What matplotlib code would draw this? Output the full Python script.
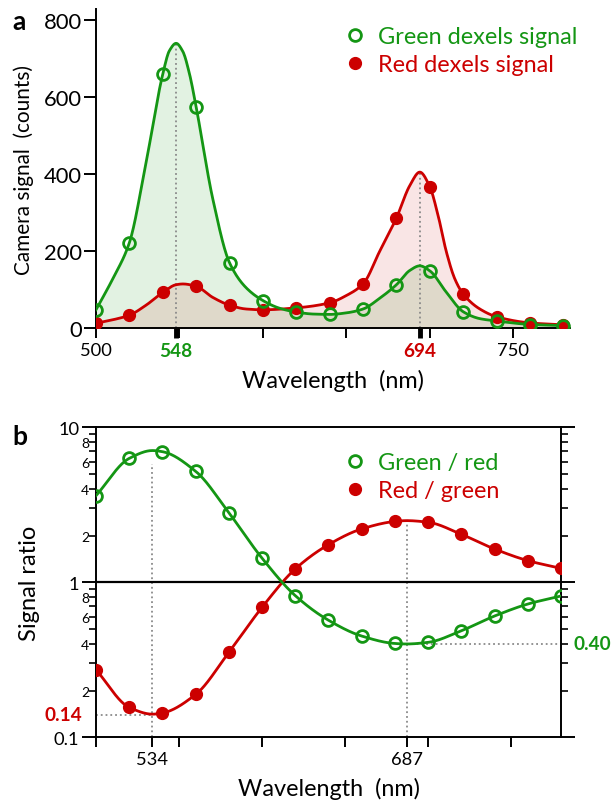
import numpy as np
import matplotlib
matplotlib.use('Agg')
import matplotlib.pyplot as plt
from matplotlib.lines import Line2D
from matplotlib.ticker import FixedLocator, FuncFormatter

plt.rcParams['font.family'] = ['Lato', 'DejaVu Sans']

# ---------------- data ----------------
wavelength = [500, 520, 540, 560, 580, 600, 620, 640, 660, 680, 700, 720, 740, 760, 780]
green_signal = [48, 222, 659, 574, 170, 72, 42, 36, 50, 113, 149, 42, 20, 9, 7]
red_signal = [13, 34, 93, 109, 60, 48, 53, 65, 115, 286, 367, 88, 30, 14, 9]

green_fit_nm = [500, 510, 520, 530, 540, 544, 548, 552, 556, 560, 570, 580, 590, 600, 610, 620,
                630, 640, 650, 660, 670, 680, 688, 694, 700, 710, 720, 730, 740, 760, 780]
green_fit = [48, 128, 222, 430, 659, 720, 739, 718, 660, 574, 335, 170, 105, 72, 52, 42,
             37, 36, 40, 50, 78, 113, 150, 162, 149, 93, 43, 25, 19, 10, 7]
red_fit_nm = [500, 510, 520, 530, 540, 548, 552, 560, 570, 580, 590, 600, 620, 640, 650, 660,
              670, 680, 688, 694, 700, 705, 710, 715, 720, 730, 740, 760, 780]
red_fit = [13, 22, 34, 60, 93, 113, 115, 109, 80, 60, 50, 48, 53, 66, 85, 115,
           200, 286, 370, 405, 367, 292, 197, 128, 89, 50, 30, 14, 9]

green_red_ratio = [3.62, 6.3, 6.96, 5.2, 2.81, 1.43, 0.82, 0.569, 0.45, 0.403, 0.41, 0.487, 0.606, 0.724, 0.816]
red_green_ratio = [0.273, 0.156, 0.1435, 0.189, 0.353, 0.69, 1.22, 1.75, 2.21, 2.47, 2.44, 2.04, 1.64, 1.38, 1.23]

ratio_fit_nm = [500, 520, 534, 540, 560, 580, 600, 620, 640, 660, 680, 687, 700, 720, 740, 760, 780]
green_red_fit = [3.62, 6.3, 7.08, 6.96, 5.2, 2.81, 1.43, 0.82, 0.569, 0.45, 0.403, 0.400, 0.41, 0.487, 0.606, 0.724, 0.816]
red_green_fit = [0.273, 0.156, 0.141, 0.1435, 0.189, 0.353, 0.69, 1.22, 1.75, 2.21, 2.47, 2.50, 2.44, 2.04, 1.64, 1.38, 1.23]

peak_green_a, peak_red_a = 548, 694
peak_green_b, peak_red_b = 534, 687
label_014, label_040 = 0.14, 0.40

GREEN = '#149614'
RED = '#cc0000'
DOT = '#8a8a8a'


def pchip(x, y, xn):
    x = np.asarray(x, float); y = np.asarray(y, float)
    h = np.diff(x); d = np.diff(y) / h
    m = np.zeros_like(y)
    for k in range(1, len(x) - 1):
        if d[k - 1] * d[k] > 0:
            w1 = 2 * h[k] + h[k - 1]; w2 = h[k] + 2 * h[k - 1]
            m[k] = (w1 + w2) / (w1 / d[k - 1] + w2 / d[k])
    m[0] = d[0]; m[-1] = d[-1]
    idx = np.clip(np.searchsorted(x, xn) - 1, 0, len(x) - 2)
    t = (xn - x[idx]) / h[idx]
    h00 = 2 * t**3 - 3 * t**2 + 1; h10 = t**3 - 2 * t**2 + t
    h01 = -2 * t**3 + 3 * t**2; h11 = t**3 - t**2
    return h00 * y[idx] + h10 * h[idx] * m[idx] + h01 * y[idx + 1] + h11 * h[idx] * m[idx + 1]


W, H = 614, 804
fig = plt.figure(figsize=(W / 100, H / 100), dpi=100)
renderer = fig.canvas.get_renderer()


def fit_size(s, target_px, weight='normal'):
    t = fig.text(0, 0, s, fontsize=10, fontweight=weight)
    w = t.get_window_extent(renderer).width
    t.remove()
    return 10 * target_px / w


FS_XLAB = fit_size('Wavelength  (nm)', 182)
FS_YLAB = fit_size('Camera signal  (counts)', 210)
FS_YLAB_B = fit_size('Signal ratio', 115)
FS_LEG = fit_size('Green dexels signal', 199)
FS_TICK = fit_size('500', 32)
FS_YTICK = fit_size('800', 38)
FS_BOLD = fit_size('548', 33, 'bold')


def box(l, t, r, b):
    return [l / W, 1 - b / H, (r - l) / W, (b - t) / H]

# ---------------- panel a ----------------
ax1 = fig.add_axes(box(96, 10, 570, 329.3))
xs = np.linspace(500, 780, 700)
gcur = pchip(green_fit_nm, green_fit, xs)
rcur = pchip(red_fit_nm, red_fit, xs)
ax1.fill_between(xs, 0, gcur, color=GREEN, alpha=0.12, lw=0)
ax1.fill_between(xs, 0, rcur, color=RED, alpha=0.10, lw=0)
ax1.plot([peak_green_a, peak_green_a], [0, pchip(green_fit_nm, green_fit, np.array([peak_green_a]))[0]],
         ls=':', color=DOT, lw=1.3, zorder=2)
ax1.plot([peak_red_a, peak_red_a], [0, pchip(red_fit_nm, red_fit, np.array([peak_red_a]))[0]],
         ls=':', color=DOT, lw=1.3, zorder=2)
ax1.plot(xs, rcur, color=RED, lw=2, zorder=3)
ax1.plot(xs, gcur, color=GREEN, lw=2, zorder=4)
ax1.plot(wavelength, red_signal, 'o', color=RED, ms=8.5, zorder=5)
ax1.plot(wavelength, green_signal, 'o', mfc='none', mec=GREEN, mew=2, ms=8.5, zorder=6)
ax1.set_xlim(500, 784)
ax1.set_ylim(0, 828)
for s in ['top', 'right']:
    ax1.spines[s].set_visible(False)
for s in ['left', 'bottom']:
    ax1.spines[s].set_linewidth(1.4)
ax1.set_yticks([0, 200, 400, 600, 800])
xt = [500, 548, 550, 600, 650, 694, 700, 750]
ax1.set_xticks(xt)
ax1.set_xticklabels(['500', '548', '', '', '', '694', '', '750'])
ax1.tick_params(direction='out', length=7, width=1.4, labelsize=FS_TICK, pad=3)
ax1.tick_params(axis='y', length=9, pad=1, labelsize=FS_YTICK)
for i, col in [(1, GREEN), (5, RED)]:
    tk = ax1.xaxis.get_major_ticks()[i]
    tk.tick1line.set_color(col)
    tk.tick1line.set_markeredgewidth(3.5)
    tk.label1.set_color(col)
    tk.label1.set_fontweight('bold')
    tk.label1.set_fontsize(FS_BOLD)
ax1.set_xlabel('Wavelength  (nm)', fontsize=FS_XLAB, labelpad=7)
ax1.set_ylabel('Camera signal  (counts)', fontsize=FS_YLAB, labelpad=7)

h1 = [Line2D([], [], ls='none', marker='o', mfc='none', mec=GREEN, mew=2, ms=8.5),
      Line2D([], [], ls='none', marker='o', color=RED, ms=8.5)]
leg = ax1.legend(h1, ['Green dexels signal', 'Red dexels signal'], loc='upper left',
                 bbox_to_anchor=(333 / W, 1 - 15 / H), bbox_transform=fig.transFigure,
                 frameon=False, fontsize=FS_LEG, handlelength=0.9, handletextpad=0.5,
                 borderpad=0, labelspacing=0.3)
for t, c in zip(leg.get_texts(), [GREEN, RED]):
    t.set_color(c)

fig.text(12 / W, 1 - 22 / H, 'a', fontsize=19, fontweight='bold', va='center', ha='left')

# ---------------- panel b ----------------
ax2 = fig.add_axes(box(96, 428.3, 561, 738.3))
xs2 = np.linspace(500, 780, 700)
gr = 10 ** pchip(ratio_fit_nm, np.log10(green_red_fit), xs2)
rg = 10 ** pchip(ratio_fit_nm, np.log10(red_green_fit), xs2)
ax2.set_yscale('log')
ax2.set_xlim(500, 780)
ax2.set_ylim(0.1, 10)
ax2.axhline(1, color='k', lw=1.6, zorder=2)
ax2.plot([peak_green_b, peak_green_b], [0.1, 5.8], ls=':', color=DOT, lw=1.3, zorder=1)
ax2.plot([500, peak_green_b], [label_014, label_014], ls=':', color=DOT, lw=1.3, zorder=1)
ax2.plot([peak_red_b, peak_red_b], [0.1, 2.38], ls=':', color=DOT, lw=1.3, zorder=1)
ax2.plot([peak_red_b, 780], [label_040, label_040], ls=':', color=DOT, lw=1.3, zorder=1)
ax2.plot(xs2, rg, color=RED, lw=2, zorder=3)
ax2.plot(xs2, gr, color=GREEN, lw=2, zorder=4)
ax2.plot(wavelength, red_green_ratio, 'o', color=RED, ms=8.5, zorder=5)
ax2.plot(wavelength, green_red_ratio, 'o', mfc='none', mec=GREEN, mew=2, ms=8.5, zorder=6)
for s in ax2.spines.values():
    s.set_linewidth(1.4)
ax2.yaxis.set_major_locator(FixedLocator([0.1, 1, 10]))
ax2.set_yticklabels(['0.1', '1', '10'])
minors = [m * d for d in (0.1, 1) for m in range(2, 10)]
ax2.yaxis.set_minor_locator(FixedLocator(minors))


def minfmt(v, pos):
    mant = int(round(v / (0.1 if v < 1 else 1)))
    return str(mant) if mant in (2, 4, 6, 8) else ''


ax2.yaxis.set_minor_formatter(FuncFormatter(minfmt))
ax2.set_xticks([500, 534, 550, 600, 650, 687, 700, 750])
ax2.set_xticklabels(['', '534', '', '', '', '687', '', ''])
ax2.tick_params(axis='x', direction='out', length=7, width=1.4, labelsize=FS_TICK, pad=3, top=False)
ax2.tick_params(axis='y', which='major', direction='out', length=10, width=1.4, labelsize=FS_TICK,
                right=True, pad=2)
ax2.tick_params(axis='y', which='minor', direction='out', length=5, width=1.2, labelsize=10,
                right=True, pad=0)
ax2.set_xlabel('Wavelength  (nm)', fontsize=FS_XLAB, labelpad=7)
ax2.set_ylabel('Signal ratio', fontsize=FS_YLAB_B, labelpad=10)
ax2.annotate('0.14', xy=(0, label_014), xycoords=('axes fraction', 'data'), xytext=(-14, 0),
             textcoords='offset pixels', ha='right', va='center', color=RED, fontsize=FS_BOLD,
             fontweight='bold')
ax2.annotate('0.40', xy=(1, label_040), xycoords=('axes fraction', 'data'), xytext=(12, 0),
             textcoords='offset pixels', ha='left', va='center', color=GREEN, fontsize=FS_BOLD,
             fontweight='bold')

h2 = [Line2D([], [], ls='none', marker='o', mfc='none', mec=GREEN, mew=2, ms=8.5),
      Line2D([], [], ls='none', marker='o', color=RED, ms=8.5)]
leg2 = ax2.legend(h2, ['Green / red', 'Red / green'], loc='upper left',
                  bbox_to_anchor=(333 / W, 1 - 441 / H), bbox_transform=fig.transFigure,
                  frameon=False, fontsize=FS_LEG, handlelength=0.9, handletextpad=0.5,
                  borderpad=0, labelspacing=0.3)
for t, c in zip(leg2.get_texts(), [GREEN, RED]):
    t.set_color(c)

fig.text(12 / W, 1 - 437 / H, 'b', fontsize=19, fontweight='bold', va='center', ha='left')

fig.savefig('out.png', dpi=100)
